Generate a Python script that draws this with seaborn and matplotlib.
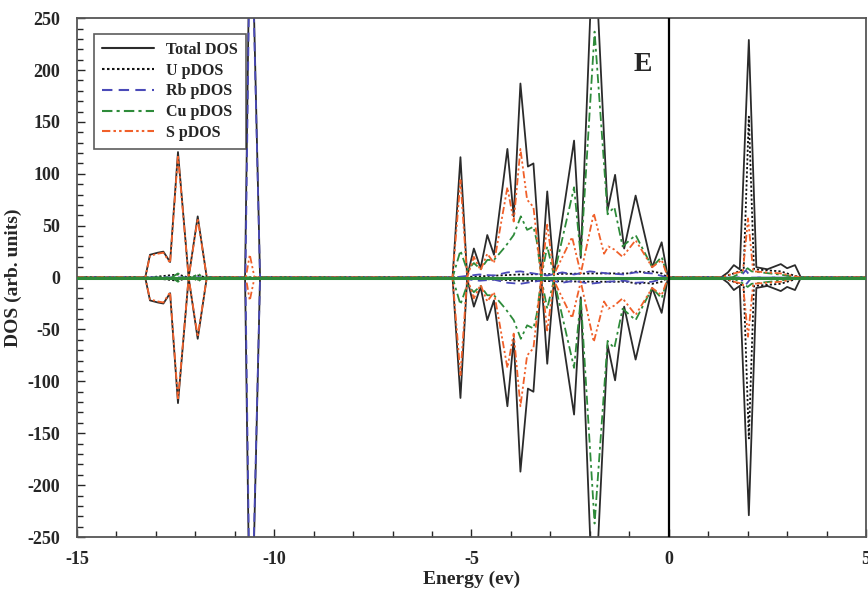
import pandas as pd
import numpy as np
import matplotlib
matplotlib.use("Agg")
from matplotlib import pyplot as plt
from matplotlib.ticker import MultipleLocator
import seaborn as sns

# spin-up DOS, spin-down is its mirror image
total_e = [-15, -13.27, -13.15, -12.95, -12.81, -12.64, -12.44, -12.17, -11.94, -11.71,
           -10.74, -10.60, -10.36, -5.48, -5.28, -5.11, -4.94, -4.77, -4.60, -4.43,
           -4.09, -3.93, -3.76, -3.57, -3.43, -3.23, -3.08, -2.91, -2.40, -2.23,
           -1.90, -1.55, -1.36, -1.13, -0.84, -0.42, -0.18, -0.02,
           1.32, 1.50, 1.65, 1.80, 2.03, 2.22, 2.50, 2.84, 3.00, 3.20, 3.35, 5]
total_v = [0, 0, 22, 24, 25, 15, 121, 0, 59, 0,
           0, 400, 0, 0, 116, 1, 28, 9, 41, 22,
           124, 59, 187, 107, 110, 0, 83, 3, 132, 19,
           340, 65, 99, 28, 79, 10, 34, 0,
           0, 5, 12, 8, 229, 10, 8, 13, 9, 12, 0, 0]

u_e = [-15, -13.2, -12.44, -12.17, -11.94, -11.71, -5.48, -3.76, -1.90, -1.05, -0.80, -0.60,
       -0.42, -0.18, -0.02, 1.32, 1.65, 1.90, 2.03, 2.16, 2.84, 3.00, 3.35, 5]
u_v = [0, 0, 3, 0, 2, 0, 0, 3, 4, 4, 6, 5,
       6, 4, 0, 0, 4, 8, 155, 8, 6, 4, 0, 0]

rb_e = [-15, -10.73, -10.60, -10.36, -5.48, -4.80, -4.43, -4.09, -3.76, -3.43, -3.08, -2.70,
        -2.40, -2.00, -1.55, -1.13, -0.84, -0.42, -0.02, 1.80, 1.95, 2.10, 5]
rb_v = [0, 0, 385, 0, 0, 3, 2, 5, 6, 4, 2, 5,
        3, 6, 4, 3, 5, 4, 0, 0, 7, 0, 0]

cu_e = [-15, -12.6, -12.44, -12.3, -12.05, -11.94, -11.8, -5.48, -5.28, -5.11, -4.94, -4.77,
        -4.60, -4.43, -4.14, -3.93, -3.75, -3.59, -3.43, -3.35, -3.23, -3.08, -2.91,
        -2.40, -2.23, -1.88, -1.55, -1.38, -1.17, -0.84, -0.42, -0.18, -0.02,
        1.60, 1.90, 2.00, 2.10, 2.80, 3.30, 5]
cu_v = [0, 0, 4, 0, 0, 4, 0, 0, 26, 7, 14, 8,
        17, 17, 30, 41, 59, 46, 49, 36, 1, 30, 2,
        87, 20, 237, 61, 68, 30, 41, 10, 20, 0,
        0, 6, 9, 6, 3, 0, 0]

s_e = [-15, -13.27, -13.15, -12.95, -12.81, -12.64, -12.44, -12.17, -11.94, -11.71,
       -10.72, -10.62, -10.50, -5.48, -5.28, -5.11, -4.94, -4.77, -4.60, -4.43,
       -4.09, -3.93, -3.76, -3.59, -3.43, -3.23, -3.08, -2.91, -2.45, -2.23,
       -1.90, -1.64, -1.53, -1.38, -1.17, -0.84, -0.42, -0.18, -0.02,
       1.32, 1.65, 1.88, 2.01, 2.14, 2.84, 3.35, 5]
s_v = [0, 0, 21, 23, 24, 14, 118, 0, 57, 0,
       0, 22, 0, 0, 94, 0, 20, 7, 23, 14,
       87, 54, 124, 75, 68, 0, 51, 3, 39, 4,
       62, 23, 30, 27, 20, 36, 10, 17, 0,
       0, 4, 6, 57, 6, 4, 0, 0]

species = ["Total DOS", "U pDOS", "Rb pDOS", "Cu pDOS", "S pDOS"]
energies = [total_e, u_e, rb_e, cu_e, s_e]
values = [total_v, u_v, rb_v, cu_v, s_v]

rows = []
for name, e, v in zip(species, energies, values):
    for spin, sign in [("up", 1), ("down", -1)]:
        for x, y in zip(e, v):
            rows.append({"energy": x, "dos": sign * y, "species": name, "spin": spin})
df = pd.DataFrame(rows)

sns.set_style("ticks")
plt.rcParams["font.family"] = ["Liberation Serif", "DejaVu Serif"]
plt.rcParams["font.weight"] = "bold"
plt.rcParams["axes.unicode_minus"] = False

colors = {"Total DOS": "#2b2b2b", "U pDOS": "#111111", "Rb pDOS": "#4a4ab8",
          "Cu pDOS": "#2e8b3a", "S pDOS": "#f0602a"}
dashes = {"Total DOS": "", "U pDOS": (1.2, 1.2), "Rb pDOS": (5, 3),
          "Cu pDOS": (5, 2, 1.5, 2), "S pDOS": (4, 1.5, 1.2, 1.5, 1.2, 1.5)}

fig = plt.figure(figsize=(8.68, 5.93), dpi=100)
ax = fig.add_axes([0.0887, 0.0944, 0.909, 0.875])

sns.lineplot(data=df, x="energy", y="dos", hue="species", style="species",
             units="spin", estimator=None, sort=False, hue_order=species,
             style_order=species, palette=colors, dashes=dashes, lw=1.3, ax=ax)

ax.axhline(0, color="#2e8b3a", lw=2.2, zorder=5)
ax.axvline(0, color="black", lw=1.6, zorder=6)
ax.text(-0.66, 205, "E", fontsize=20, fontweight="bold", ha="center", va="center")

ax.set_xlim(-15, 5)
ax.set_ylim(-250, 250)
ax.xaxis.set_major_locator(MultipleLocator(5))
ax.xaxis.set_minor_locator(MultipleLocator(1))
ax.yaxis.set_major_locator(MultipleLocator(50))
ax.yaxis.set_minor_locator(MultipleLocator(10))
ax.tick_params(which="both", direction="in", top=False, right=False, labelsize=13)
ax.tick_params(which="major", length=6, width=1)
ax.tick_params(which="minor", length=4, width=1)
ax.tick_params(axis="x", pad=10)
ax.tick_params(axis="y", pad=12)
for lab in ax.get_xticklabels() + ax.get_yticklabels():
    lab.set_fontweight("bold")
for sp in ax.spines.values():
    sp.set_color("#555555")
    sp.set_linewidth(1.3)

ax.set_xlabel("Energy (ev)", fontsize=14, fontweight="bold", labelpad=2)
ax.set_ylabel("DOS (arb. units)", fontsize=14, fontweight="bold", labelpad=4)

handles, labels = ax.get_legend_handles_labels()
keep = [(h, l) for h, l in zip(handles, labels) if l in species]
leg = ax.legend([h for h, l in keep], [l for h, l in keep], loc="upper left",
                bbox_to_anchor=(0.012, 0.985), frameon=True, fancybox=False,
                edgecolor="#333333", handlelength=3.2, labelspacing=0.3,
                borderpad=0.5, prop={"family": "Liberation Serif", "weight": "bold", "size": 11.5})
leg.get_frame().set_linewidth(1.2)
for line in leg.get_lines():
    line.set_linewidth(1.5)

fig.savefig("out.png", dpi=100)
